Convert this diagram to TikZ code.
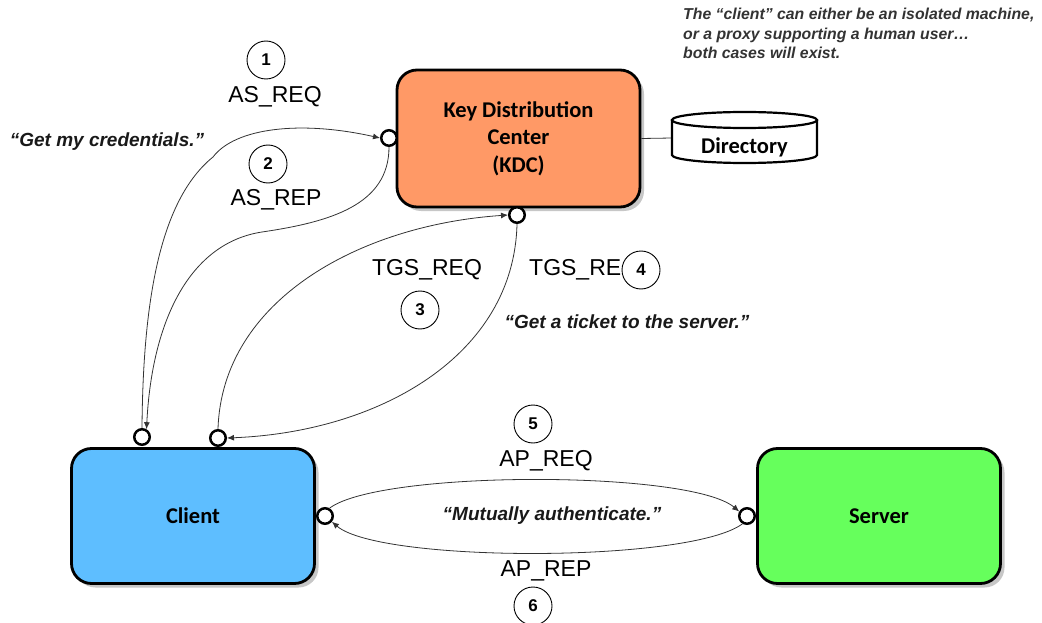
\documentclass[tikz,border=0pt]{standalone}
\usepackage{fontspec}
\setmainfont{Liberation Sans}
\newfontfamily\boxfont{Carlito}
\usetikzlibrary{arrows.meta,shadows}

\definecolor{kdcfill}{RGB}{255,153,102}
\definecolor{clientfill}{RGB}{94,190,255}
\definecolor{serverfill}{RGB}{102,255,92}

\tikzset{
  unit/.style={rectangle, rounded corners=20pt, draw=black, line width=2.8pt,
    align=center, inner sep=0pt,
    font=\boxfont\bfseries\fontsize{22.5}{27.5}\selectfont,
    drop shadow={shadow xshift=4pt, shadow yshift=-4pt, fill=black!22, opacity=1}},
  port/.style={circle, draw=black, fill=white, line width=2.5pt,
    minimum size=15.5pt, inner sep=0pt},
  stepnum/.style={circle, draw=black, fill=white, line width=0.9pt,
    minimum size=38pt, inner sep=0pt, font=\bfseries\fontsize{17}{17}\selectfont},
  msg/.style={font=\fontsize{23}{23}\selectfont, inner sep=0pt},
  quote/.style={font=\bfseries\itshape\fontsize{19}{19}\selectfont, inner sep=0pt, text=black!90},
  flow/.style={draw=black!80, line width=0.8pt, -{Latex[length=7pt,width=6pt]}},
  link/.style={draw=black!80, line width=0.8pt},
}

\begin{document}
\begin{tikzpicture}[x=1pt, y=-1pt]
\useasboundingbox (0,0) rectangle (1042,623);

% main parties
\node[unit, fill=kdcfill, minimum width=243pt, minimum height=137pt] (kdc) at (518.5,138.5)
  {Key Distribution\\Center\\(KDC)};
\node[unit, fill=clientfill, minimum width=243pt, minimum height=135pt] (client) at (193,516) {Client};
\node[unit, fill=serverfill, minimum width=243pt, minimum height=135pt] (server) at (879,516) {Server};

% directory store
\coordinate (dirside) at (672,138);
\draw[link] (kdc.east) -- (dirside);
\draw[line width=2.2pt, fill=white] (672,120) -- (672,155)
  arc[start angle=180, end angle=360, x radius=72.5pt, y radius=8pt] -- (817,120);
\draw[line width=2.2pt, fill=white] (744.5,120) ellipse [x radius=72.5pt, y radius=8pt];
\node[font=\boxfont\bfseries\fontsize{22.5}{22.5}\selectfont, inner sep=0pt] (dir) at (744.5,147) {Directory};

% connection ports
\node[port] (pkL) at (389,138) {};
\node[port] (pkB) at (517,215) {};
\node[port] (pc1) at (142,437) {};
\node[port] (pc2) at (218,438) {};
\node[port] (pcR) at (325,516) {};
\node[port] (psL) at (747,516) {};

% message flows
\draw[flow] (pc1.north) .. controls (143,300) and (160,200) .. (213,157)
  .. controls (235,128) and (300,120) .. (pkL.west);
\draw[flow] (pkL.south) .. controls (389,205) and (330,222) .. (262,232)
  .. controls (190,243) and (152,320) .. (pc1.60);
\draw[flow] (pc2.north) .. controls (222,300) and (360,225) .. (pkB.west);
\draw[flow] (pkB.south) .. controls (514,355) and (380,432) .. (pc2.east);
\draw[flow] (pcR.60) .. controls (380,470) and (690,470) .. (psL.150);
\draw[flow] (psL.-120) .. controls (690,563) and (380,563) .. (pcR.-40);

% message names
\node[msg] (asreq) at (275,97) {AS\_REQ};
\node[msg] (asrep) at (276,200) {AS\_REP};
\node[msg] (tgsreq) at (427,270) {TGS\_REQ};
\node[msg, anchor=west] (tgsrep) at (529,270) {TGS\_RE};
\node[msg] (apreq) at (546,461) {AP\_REQ};
\node[msg] (aprep) at (546,571) {AP\_REP};

% step numbers
\node[stepnum] (s1) at (266,60) {1};
\node[stepnum] (s2) at (268,164) {2};
\node[stepnum] (s3) at (420,310) {3};
\node[stepnum] (s4) at (641,270) {4};
\node[stepnum] (s5) at (533,424) {5};
\node[stepnum] (s6) at (533,606) {6};

% spoken intents
\node[quote] (q1) at (107,142) {“Get my credentials.”};
\node[quote] (q2) at (627,322) {“Get a ticket to the server.”};
\node[quote] (q3) at (552,516) {“Mutually authenticate.”};

% side note
\node[anchor=north west, align=left, inner sep=0pt, text=black!80,
  font=\bfseries\itshape\fontsize{15.8}{19.5}\selectfont] (note) at (683,8)
  {The “client” can either be an isolated machine,\\
   or a proxy supporting a human user…\\
   both cases will exist.};
\end{tikzpicture}
\end{document}
